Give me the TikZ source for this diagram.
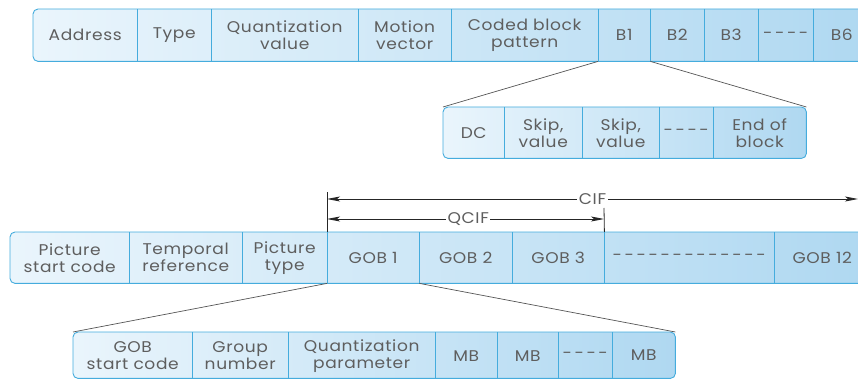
\documentclass[tikz,border=0pt]{standalone}
\usepackage{fontspec}
\setmainfont{Poppins}[FakeStretch=1.1,LetterSpace=4]
\usetikzlibrary{arrows.meta,backgrounds}
\definecolor{bord}{HTML}{45ACDD}
\definecolor{cellL}{HTML}{EAF5FC}
\definecolor{cellR}{HTML}{AFD8F1}
\definecolor{txt}{HTML}{5E5E5E}
\definecolor{conn}{HTML}{555555}
\tikzset{
  cell/.style={inner sep=0pt, text=txt, align=center, anchor=north west,
    font=\fontsize{15.5}{17}\selectfont},
  rowbg/.style={draw=bord, line width=0.9pt, rounded corners=5pt, left color=cellL, right color=cellR},
  divider/.style={draw=bord, line width=0.9pt},
  connline/.style={draw=conn, line width=0.7pt},
  dimline/.style={draw=black!85, line width=0.8pt},
  dimarrow/.style={dimline, {Stealth[length=13pt,width=5pt,inset=3pt]}-{Stealth[length=13pt,width=5pt,inset=3pt]}},
  dimlabel/.style={fill=white, inner sep=1.5pt, text=txt, font=\fontsize{15.5}{17}\selectfont}
}
\begin{document}
\begin{tikzpicture}[x=1pt,y=-1pt]
\useasboundingbox (0,0) rectangle (858,379);
\clip (0,0) rectangle (858,379);
% ---------- macroblock row ----------
\node[cell, minimum width=104pt, minimum height=52pt] (addr) at (33,9) {Address};
\node[cell, minimum width=74pt, minimum height=52pt] (type) at (137,9) {Type};
\node[cell, minimum width=147pt, minimum height=52pt] (qval) at (211,9) {Quantization\\value};
\node[cell, minimum width=93pt, minimum height=52pt] (mv) at (358,9) {Motion\\vector};
\node[cell, minimum width=147pt, minimum height=52pt] (cbp) at (451,9) {Coded block\\pattern};
\node[cell, minimum width=52pt, minimum height=52pt] (b1) at (598,9) {B1};
\node[cell, minimum width=54pt, minimum height=52pt] (b2) at (650,9) {B2};
\node[cell, minimum width=54pt, minimum height=52pt] (b3) at (704,9) {B3};
\node[cell, minimum width=55pt, minimum height=52pt] (bd) at (758,9) {-\,-\,-\,-};
\node[cell, minimum width=57pt, minimum height=52pt] (b6) at (813,9) {B6};
% ---------- block row ----------
\node[cell, minimum width=61pt, minimum height=51pt] (dc) at (443,107) {DC};
\node[cell, minimum width=78pt, minimum height=51pt] (skip1) at (504,107) {Skip,\\value};
\node[cell, minimum width=77pt, minimum height=51pt] (skip2) at (582,107) {Skip,\\value};
\node[cell, minimum width=54pt, minimum height=51pt] (sd) at (659,107) {-\,-\,-\,-};
\node[cell, minimum width=93pt, minimum height=51pt] (eob) at (713,107) {End of\\block};
% ---------- picture row ----------
\node[cell, minimum width=119pt, minimum height=51pt] (psc) at (10,232) {Picture\\start code};
\node[cell, minimum width=113pt, minimum height=51pt] (tr) at (129,232) {Temporal\\reference};
\node[cell, minimum width=85pt, minimum height=51pt] (pt) at (242,232) {Picture\\type};
\node[cell, minimum width=92pt, minimum height=51pt] (gob1) at (327,232) {GOB 1};
\node[cell, minimum width=93pt, minimum height=51pt] (gob2) at (419,232) {GOB 2};
\node[cell, minimum width=92pt, minimum height=51pt] (gob3) at (512,232) {GOB 3};
\node[cell, minimum width=170pt, minimum height=51pt] (gobd) at (604,232) {-\,-\,-\,-\,-\,-\,-\,-\,-\,-\,-\,-\,-};
\node[cell, minimum width=96pt, minimum height=51pt] (gob12) at (774,232) {GOB 12};
% ---------- GOB row ----------
\node[cell, minimum width=119pt, minimum height=47pt] (gsc) at (73,332) {GOB\\start code};
\node[cell, minimum width=96pt, minimum height=47pt] (gn) at (192,332) {Group\\number};
\node[cell, minimum width=147pt, minimum height=47pt] (qp) at (288,332) {Quantization\\parameter};
\node[cell, minimum width=62pt, minimum height=47pt] (mb1) at (435,332) {MB};
\node[cell, minimum width=61pt, minimum height=47pt] (mb2) at (497,332) {MB};
\node[cell, minimum width=54pt, minimum height=47pt] (md) at (558,332) {-\,-\,-\,-};
\node[cell, minimum width=63pt, minimum height=46pt] (mb3) at (612,332) {MB};
% ---------- backgrounds ----------
\begin{scope}[on background layer]
  \path[rowbg] (addr.north west) rectangle (b6.south east);
  \path[rowbg] (dc.north west) rectangle (eob.south east);
  \path[rowbg] (psc.north west) rectangle (gob12.south east);
  \path[rowbg] (gsc.north west) rectangle (mb3.south east);
\end{scope}
% ---------- dividers ----------
\foreach \c in {addr,type,qval,mv,cbp,b1,b2,b3,bd,dc,skip1,skip2,sd,psc,tr,pt,gob1,gob2,gob3,gobd,gsc,gn,qp,mb1,mb2,md}
  \draw[divider] (\c.north east) -- (\c.south east);
% ---------- expansion lines ----------
\draw[connline] (b1.south west) -- (dc.north west);
\draw[connline] (b1.south east) -- (eob.north east);
\draw[connline] (gob1.south west) -- (gsc.north west);
\draw[connline] (gob1.south east) -- (mb3.north east);
% ---------- CIF / QCIF ----------
\coordinate (tickA) at (327,192);
\coordinate (tickB) at (604,208);
\coordinate (cifL) at (327,199);
\coordinate (cifR) at (858,199);
\coordinate (qcifL) at (327,219);
\coordinate (qcifR) at (604,219);
\draw[dimline] (gob1.north west) -- (tickA);
\draw[dimline] (gob3.north east) -- (tickB);
\draw[dimarrow] (cifL) -- node[dimlabel] {CIF} (cifR);
\draw[dimarrow] (qcifL) -- node[dimlabel, pos=0.51] {QCIF} (qcifR);
\end{tikzpicture}
\end{document}
